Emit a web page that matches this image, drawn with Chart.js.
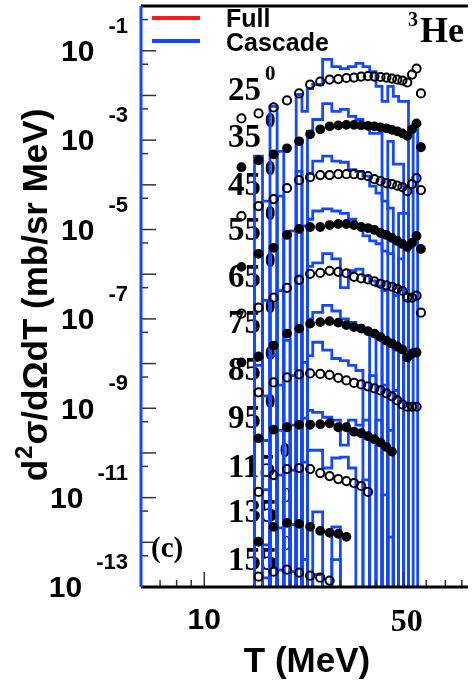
<!DOCTYPE html>
<html>
<head>
<meta charset="utf-8">
<script src="https://cdn.jsdelivr.net/npm/chart.js@4.4.0/dist/chart.umd.min.js"></script>
<style>
  html, body { margin: 0; padding: 0; background: #fff; }
  #wrap { width: 474px; height: 684px; overflow: hidden; }
</style>
</head>
<body>
<div id="wrap"><canvas id="spectra" width="474" height="684"></canvas></div>
<script>
// 3He double-differential spectra, each angle shifted down by about a decade
const angles = [25, 35, 45, 55, 65, 75, 85, 95, 115, 135, 155];
const energies = [13.5, 15.5, 17.5, 19.5, 21.5, 23.5, 25.5, 27.5, 29.5, 31.5, 33.5, 35.5,
  37.5, 39.5, 41.5, 43.5, 45.5, 47.5, 49.5, 51.5, 53.5, 55.5, 57.5];

// measured points (mb/sr MeV, already scaled)
const sigma25 = [3.07e-3, 3.97e-3, 5.40e-3, 7.73e-3, 1.11e-2, 1.76e-2, 2.05e-2, 2.27e-2, 2.33e-2, 2.46e-2, 2.52e-2, 2.65e-2,
  2.72e-2, 2.65e-2, 2.59e-2, 2.52e-2, 2.39e-2, 2.27e-2, 2.16e-2, 1.95e-2, 2.94e-2, 4.0e-2, 1.11e-2];
const sigma35 = [2.48e-4, 3.55e-4, 4.83e-4, 6.58e-4, 9.42e-4, 1.35e-3, 1.75e-3, 2.04e-3, 2.14e-3, 2.20e-3, 2.20e-3, 2.14e-3,
  2.09e-3, 2.04e-3, 1.93e-3, 1.84e-3, 1.70e-3, 1.58e-3, 1.42e-3, 1.25e-3, 1.75e-3, 2.37e-3, 6.93e-4];
const sigma45 = [2.00e-5, 3.35e-5, 4.80e-5, 8.44e-5, 1.27e-4, 1.48e-4, 1.65e-4, 1.65e-4, 1.73e-4, 1.73e-4, 1.73e-4, 1.65e-4,
  1.56e-4, 1.34e-4, 1.21e-4, 1.09e-4, 1.04e-4, 9.6e-5, 8.9e-5, 7.2e-5, 1.04e-4, 1.41e-4, 7.6e-5];
const sigma55 = [1.46e-6, 2.85e-6, 3.88e-6, 7.56e-6, 1.03e-5, 1.14e-5, 1.14e-5, 1.26e-5, 1.33e-5, 1.33e-5, 1.26e-5, 1.14e-5,
  1.08e-5, 9.77e-6, 8.38e-6, 7.56e-6, 6.48e-6, 5.55e-6, 4.76e-6, 4.08e-6, 5.01e-6, 7.18e-6, 3.68e-6];
const sigma65 = [1.31e-7, 1.78e-7, 2.98e-7, 4.97e-7, 7.50e-7, 1.02e-6, 1.07e-6, 1.19e-6, 1.13e-6, 1.05e-6, 8.75e-7, 8.10e-7,
  7.69e-7, 6.94e-7, 6.11e-7, 5.65e-7, 5.24e-7, 4.72e-7, 4.26e-7, 2.98e-7, 2.98e-7, 3.30e-7, 1.38e-7];
const sigma75 = [1.06e-8, 1.44e-8, 2.53e-8, 4.69e-8, 6.06e-8, 7.83e-8, 8.46e-8, 8.91e-8, 8.25e-8, 7.25e-8, 6.55e-8, 6.06e-8,
  5.33e-8, 4.69e-8, 3.92e-8, 3.27e-8, 2.81e-8, 2.41e-8, 2.06e-8, 1.37e-8, 1.68e-8, 1.77e-8, null];
const sigma85 = [null, 2.27e-9, 3.79e-9, 4.90e-9, 5.71e-9, 6.02e-9, 5.86e-9, 5.57e-9, 4.78e-9, 4.20e-9, 3.69e-9, 3.42e-9,
  3.09e-9, 2.79e-9, 2.51e-9, 2.16e-9, 1.85e-9, 1.50e-9, 1.22e-9, 1.08e-9, 1.08e-9, 1.08e-9, null];
const sigma95 = [null, 2.12e-10, 3.31e-10, 3.76e-10, 4.28e-10, 4.28e-10, 4.39e-10, 4.62e-10, 3.76e-10, 3.76e-10, 2.99e-10, 2.76e-10,
  2.37e-10, 2.03e-10, 1.70e-10, 1.35e-10, 1.07e-10, null, null, null, null, null, null];
const sigma115 = [null, 1.34e-11, 3.20e-11, 4.35e-11, 4.58e-11, 4.35e-11, 3.54e-11, 3.04e-11, 2.60e-11, 2.35e-11, 2.12e-11, 1.82e-11,
  1.34e-11, null, null, null, null, null, null, null, null, null, null];
const sigma135 = [null, 1.03e-12, 2.22e-12, 2.72e-12, 2.59e-12, 2.22e-12, 1.80e-12, 1.63e-12, 1.55e-12, 1.33e-12, null, null,
  null, null, null, null, null, null, null, null, null, null, null];
const sigma155 = [null, 1.70e-13, 2.20e-13, 2.44e-13, 2.09e-13, 1.79e-13, 1.62e-13, 1.39e-13, null, null, null, null,
  null, null, null, null, null, null, null, null, null, null, null];

// cascade model histograms, one content per bin (0 = empty bin)
const binEdges = [15, 16, 17, 18, 19, 20, 21, 22, 23, 24, 26, 28, 30, 32, 34, 36, 38, 40, 42, 44, 46, 48, 50, 52, 54, 56];
const cascade25 = [0, 0, 5.7e-3, 0, 0, 0, 1.05e-2, 4.4e-3, 1.43e-2, 1.76e-2, 6.4e-2, 4.4e-2, 4.0e-2,
  4.4e-2, 5.2e-2, 4.4e-2, 3.4e-2, 1.6e-2, 7.4e-3, 1.6e-2, 9.5e-3, 7.4e-3, 7.4e-3, 0, 0];
const cascade35 = [4.4e-4, 0, 0, 5.6e-4, 0, 0, 9.4e-4, 0, 1.57e-3, 2.9e-3, 6.6e-3, 4.4e-3, 4.9e-3,
  3.4e-3, 2.9e-3, 2.0e-3, 1.42e-3, 1.42e-3, 0, 9.4e-4, 2.9e-4, 2.9e-4, 0, 0, 2.3e-3];
const cascade45 = [0, 4.3e-5, 0, 5.6e-5, 0, 0, 2.0e-4, 0, 1.8e-4, 3.4e-4, 4.4e-4, 3.4e-4, 3.2e-4,
  2.2e-4, 2.0e-4, 1.56e-4, 9.4e-5, 6.5e-5, 4.3e-5, 3.0e-5, 0, 2.3e-5, 2.3e-5, 0, 0];
const cascade55 = [3.3e-6, 0, 4.3e-6, 0, 0, 9.3e-6, 0, 1.2e-5, 1.7e-5, 2.6e-5, 2.9e-5, 2.6e-5, 2.3e-5,
  1.7e-5, 1.2e-5, 7.2e-6, 5.6e-6, 4.8e-6, 3.3e-6, 2.9e-6, 0, 2.2e-6, 0, 0, 0];
const cascade65 = [0, 2.6e-7, 0, 4.3e-7, 0, 0, 9.2e-7, 0, 1.5e-6, 1.8e-6, 2.9e-6, 2.2e-6, 5.0e-7,
  1.2e-6, 1.3e-6, 9.2e-7, 7.1e-7, 5.5e-7, 4.3e-7, 0, 3.3e-7, 0, 2.6e-7, 0, 0];
const cascade75 = [9.1e-9, 0, 1.5e-8, 0, 3.3e-8, 0, 5.5e-8, 0, 1.0e-7, 1.4e-7, 2.0e-7, 1.5e-7, 1.0e-7,
  8.3e-8, 7.1e-8, 5.5e-8, 0, 3.6e-8, 0, 2.5e-8, 2.0e-8, 0, 1.5e-8, 0, 0];
const cascade85 = [0, 1.9e-9, 0, 3.3e-9, 0, 5.4e-9, 0, 1.06e-8, 1.5e-8, 3.0e-8, 2.0e-8, 1.3e-8, 1.17e-8,
  9.1e-9, 7.0e-9, 0, 5.4e-9, 0, 3.3e-9, 0, 2.5e-9, 0, 0, 0, 0];
const cascade95 = [0, 1.9e-10, 0, 3.2e-10, 0, 4.2e-10, 0, 6.0e-10, 9.0e-10, 8.1e-10, 6.3e-10, 5.4e-10, 1.5e-10,
  5.4e-10, 4.2e-10, 5.4e-10, 0, 5.4e-10, 0, 3.2e-10, 0, 0, 0, 0, 0];
const cascade115 = [0, 1.5e-11, 0, 3.2e-11, 0, 4.1e-11, 0, 6.2e-11, 1.15e-10, 1.15e-10, 4.6e-11, 7.7e-11, 8.1e-11,
  4.6e-11, 0, 2.5e-11, 0, 0, 1.15e-11, 0, 0, 0, 0, 0, 0];
const cascade135 = [0, 8.8e-13, 0, 2.1e-12, 0, 2.5e-12, 0, 4.1e-13, 0, 4.8e-12, 0, 2.2e-12, 0,
  0, 0, 0, 0, 0, 0, 1.3e-12, 0, 0, 0, 0, 0];
const cascade155 = [0, 1.6e-13, 0, 2.4e-13, 0, 2.2e-13, 0, 4.1e-13, 0, 1.9e-13, 0, 4.1e-13, 0,
  0, 0, 0, 0, 0, 0, 0, 0, 0, 0, 0, 0];

const yTickExponents = [-1, -3, -5, -7, -9, -11, -13];
const xTickLabels = [10, 50];

const sigmaByAngle = [sigma25, sigma35, sigma45, sigma55, sigma65, sigma75, sigma85, sigma95, sigma115, sigma135, sigma155];
const cascadeByAngle = [cascade25, cascade35, cascade45, cascade55, cascade65, cascade75, cascade85, cascade95,
  cascade115, cascade135, cascade155];

const Y_MIN = 1e-13;
const Y_MAX = 1;
const T_MIN = 6;
const T_MAX = 84;
// empty bins sit below the axis floor, like ROOT does on a log scale
const EMPTY_BIN = 1e-14;

const BLUE = '#1448ff';
const RED = '#ff1a1a';
const SANS = '"Liberation Sans", Arial, sans-serif';
const SERIF = '"Liberation Serif", "Times New Roman", serif';

function histogramPoints(edges, contents) {
  const pts = [{ x: edges[0], y: EMPTY_BIN }];
  contents.forEach((c, i) => {
    const v = c > 0 ? c : EMPTY_BIN;
    pts.push({ x: edges[i], y: v });
    pts.push({ x: edges[i + 1], y: v });
  });
  pts.push({ x: edges[edges.length - 1], y: EMPTY_BIN });
  return pts;
}

function markerPoints(values) {
  const pts = [];
  values.forEach((v, i) => {
    if (v !== null) pts.push({ x: energies[i], y: v });
  });
  return pts;
}

const datasets = [];
angles.forEach((angle, k) => {
  datasets.push({
    label: 'cascade ' + angle,
    data: histogramPoints(binEdges, cascadeByAngle[k]),
    borderColor: BLUE,
    borderWidth: 2.8,
    pointRadius: 0,
    tension: 0,
    fill: false,
    order: 2,
  });
});
angles.forEach((angle, k) => {
  const filled = k % 2 === 1;
  datasets.push({
    label: 'data ' + angle,
    data: markerPoints(sigmaByAngle[k]),
    showLine: false,
    pointRadius: filled ? 3.9 : 4.1,
    pointBorderWidth: 2,
    pointBorderColor: '#000',
    pointBackgroundColor: filled ? '#000' : 'rgba(0,0,0,0)',
    order: 1,
  });
});

function drawText(ctx, text, x, y, font, align, baseline) {
  ctx.font = font;
  ctx.textAlign = align || 'left';
  ctx.textBaseline = baseline || 'alphabetic';
  ctx.fillText(text, x, y);
}

const rootFrame = {
  id: 'rootFrame',
  beforeDatasetsDraw(chart) {
    const ctx = chart.ctx;
    ctx.save();
    ctx.fillStyle = '#000';
    // angle tags next to each spectrum
    const baselines = [100, 147, 195, 240, 287, 333, 380, 428, 477, 522, 570];
    angles.forEach((angle, k) => {
      const txt = String(angle);
      drawText(ctx, txt, 228, baselines[k], 'bold 33px ' + SERIF);
      const w = ctx.measureText(txt).width;
      drawText(ctx, '0', 228 + w + 4, baselines[k] - 20, 'bold 21px ' + SERIF);
    });
    drawText(ctx, '(c)', 151, 557, 'bold 29px ' + SERIF);
    ctx.restore();
  },
  afterDatasetsDraw(chart) {
    const ctx = chart.ctx;
    const { left, right, top, bottom } = chart.chartArea;
    const xs = chart.scales.x;
    const ys = chart.scales.y;
    ctx.save();

    // ticks on the y axis, inside the frame
    ctx.strokeStyle = '#333';
    ctx.lineWidth = 1.5;
    for (let n = -13; n <= 0; n++) {
      const y = ys.getPixelForValue(Math.pow(10, n));
      ctx.beginPath(); ctx.moveTo(left, y); ctx.lineTo(left + 15, y); ctx.stroke();
      if (n < 0) {
        const y5 = ys.getPixelForValue(5 * Math.pow(10, n));
        ctx.beginPath(); ctx.moveTo(left, y5); ctx.lineTo(left + 7, y5); ctx.stroke();
      }
    }
    // ticks on the x axis
    [6, 7, 8, 9, 20, 30, 40, 60, 70, 80].forEach(t => {
      const x = xs.getPixelForValue(t);
      ctx.beginPath(); ctx.moveTo(x, bottom); ctx.lineTo(x, bottom - 7); ctx.stroke();
    });
    xTickLabels.forEach(t => {
      const x = xs.getPixelForValue(t);
      ctx.beginPath(); ctx.moveTo(x, bottom); ctx.lineTo(x, bottom - 15); ctx.stroke();
    });

    // frame
    ctx.lineWidth = 3;
    ctx.strokeStyle = '#000';
    ctx.beginPath(); ctx.moveTo(left, top); ctx.lineTo(right, top); ctx.stroke();
    ctx.beginPath(); ctx.moveTo(left, bottom); ctx.lineTo(right, bottom); ctx.stroke();
    ctx.strokeStyle = BLUE;
    ctx.beginPath(); ctx.moveTo(left, top); ctx.lineTo(left, bottom); ctx.stroke();

    // y tick labels as 10 with a raised exponent
    ctx.fillStyle = '#000';
    yTickExponents.forEach(n => {
      const y = ys.getPixelForValue(Math.pow(10, n));
      const exp = String(n);
      ctx.font = 'bold 22px ' + SANS;
      const ew = ctx.measureText(exp).width;
      drawText(ctx, exp, 128, y - 24, 'bold 22px ' + SANS, 'right', 'middle');
      drawText(ctx, '10', 128 - ew - 14, y + 2, 'bold 30px ' + SANS, 'right', 'middle');
    });

    // x tick labels
    drawText(ctx, '10', xs.getPixelForValue(10), 621, 'bold 30px ' + SANS, 'center', 'middle');
    drawText(ctx, '50', xs.getPixelForValue(50) + 3, 623, 'bold 32px ' + SERIF, 'center', 'middle');

    // axis titles
    drawText(ctx, 'T (MeV)', 307, 672, 'bold 35px ' + SANS, 'center');
    ctx.save();
    ctx.translate(47, 296);
    ctx.rotate(-Math.PI / 2);
    const main = 'bold 35px ' + SANS;
    const sup = 'bold 24px ' + SANS;
    ctx.font = main;
    const w1 = ctx.measureText('d').width;
    const w3 = ctx.measureText('σ/dΩdT (mb/sr MeV)').width;
    ctx.font = sup;
    const w2 = ctx.measureText('2').width;
    const x0 = -(w1 + w2 + w3) / 2;
    drawText(ctx, 'd', x0, 0, main);
    drawText(ctx, '2', x0 + w1 + 1, -15, sup);
    drawText(ctx, 'σ/dΩdT (mb/sr MeV)', x0 + w1 + w2 + 2, 0, main);
    ctx.restore();

    // legend
    ctx.lineWidth = 4;
    ctx.strokeStyle = RED;
    ctx.beginPath(); ctx.moveTo(152, 18); ctx.lineTo(200, 18); ctx.stroke();
    ctx.strokeStyle = BLUE;
    ctx.beginPath(); ctx.moveTo(152, 41); ctx.lineTo(200, 41); ctx.stroke();
    drawText(ctx, 'Full', 226, 27, 'bold 25px ' + SANS);
    drawText(ctx, 'Cascade', 226, 51, 'bold 25px ' + SANS);

    // particle tag
    drawText(ctx, '3', 408, 26, 'bold 20px ' + SERIF);
    drawText(ctx, 'He', 420, 42, 'bold 36px ' + SERIF);

    ctx.restore();
  }
};

new Chart(document.getElementById('spectra').getContext('2d'), {
  type: 'line',
  data: { datasets },
  options: {
    responsive: false,
    animation: false,
    events: [],
    layout: { padding: { left: 141, top: 4, right: 0, bottom: 97 } },
    plugins: { legend: { display: false }, tooltip: { enabled: false } },
    scales: {
      x: { type: 'logarithmic', min: T_MIN, max: T_MAX, display: false },
      y: { type: 'logarithmic', min: Y_MIN, max: Y_MAX, display: false },
    },
  },
  plugins: [rootFrame],
});
</script>
</body>
</html>
